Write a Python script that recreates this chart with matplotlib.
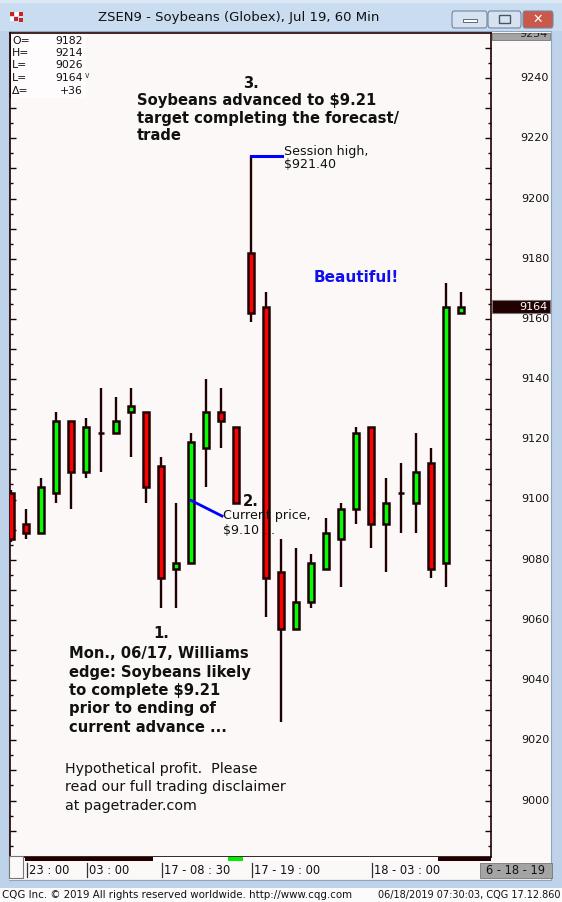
import matplotlib
matplotlib.use("Agg")
import matplotlib.pyplot as plt
from matplotlib.patches import Rectangle, FancyBboxPatch
from matplotlib.ticker import MultipleLocator, NullFormatter
from matplotlib.transforms import Bbox, TransformedBbox, blended_transform_factory

# ---------------- data ----------------
opens  = [9102, 9092, 9089, 9102, 9126, 9109, 9122, 9122, 9129, 9129, 9111, 9077, 9079, 9117, 9129, 9124,
          9182, 9164, 9076, 9057, 9066, 9077, 9087, 9097, 9124, 9092, 9102, 9099, 9112, 9079, 9162]
highs  = [9103, 9097, 9107, 9129, 9126, 9127, 9137, 9134, 9137, 9129, 9114, 9099, 9122, 9140, 9137, 9124,
          9214, 9169, 9087, 9084, 9082, 9094, 9099, 9124, 9124, 9107, 9112, 9122, 9117, 9172, 9169]
lows   = [9086, 9087, 9089, 9099, 9097, 9107, 9109, 9122, 9114, 9099, 9064, 9064, 9079, 9104, 9117, 9099,
          9159, 9061, 9026, 9057, 9064, 9077, 9071, 9092, 9084, 9076, 9089, 9089, 9074, 9071, 9162]
closes = [9087, 9089, 9104, 9126, 9109, 9124, 9122, 9126, 9131, 9104, 9074, 9079, 9119, 9129, 9126, 9099,
          9162, 9074, 9057, 9066, 9079, 9089, 9097, 9122, 9092, 9099, 9102, 9109, 9077, 9164, 9164]

time_labels = ["23 : 00", "03 : 00", "17 - 08 : 30", "17 - 19 : 00", "18 - 03 : 00"]
time_label_idx = [1, 5, 10, 16, 24]
price_labels = list(range(9000, 9241, 20))
last_price = 9164
top_price_label = "9254"
session_high = 9214
current_price_pt = (12, 9099.7)
current_price_end = (14.07, 9094.5)

header_keys = ["O=", "H=", "L=", "L=", "\u0394="]
header_vals = ["9182", "9214", "9026", "9164", "+36"]

# ---------------- figure ----------------
W, H = 562, 902
fig = plt.figure(figsize=(W / 100, H / 100), dpi=100)
fig.patch.set_facecolor("#bed3ea")

def fx(x):
    return x / W

def fy(y):
    return 1 - y / H

def frect(x0, y0, x1, y1, z=0.5, **kw):
    r = Rectangle((fx(x0), fy(y1)), (x1 - x0) / W, (y1 - y0) / H,
                  transform=fig.transFigure, zorder=z, **kw)
    fig.patches.append(r)
    return r

BG = "#fcf8f8"
DARK = "#200000"

# title bar
frect(0, 0, W, 31, z=0.1, facecolor="#cadcf0", edgecolor="none")
frect(0, 0, W, 3, z=0.1, facecolor="#dbe7f5", edgecolor="none")
# chart panel
frect(9, 31, 551, 880, z=0.1, facecolor=BG, edgecolor="#8ea6c0", linewidth=0.8)
# status bar
frect(0, 888, W, H, z=0.1, facecolor="#fbfbfb", edgecolor="none")

# icon
for (x0, y0, c) in [(10, 12, "#cc2222"), (15, 12, "#ffffff"), (19, 12, "#cc2222"),
                    (10, 17, "#ffffff"), (14, 17, "#cc2222"), (19, 18, "#cc2222")]:
    frect(x0, y0, x0 + 4, y0 + 4, facecolor=c, edgecolor="none")

# window buttons
for (x0, x1, fc) in [(452, 487, "#d6e2ef"), (488, 521, "#d6e2ef"), (523, 553, "#c9594a")]:
    b = FancyBboxPatch((fx(x0), fy(28)), (x1 - x0) / W, 17 / H,
                       boxstyle="round,pad=0,rounding_size=0.004",
                       transform=fig.transFigure, facecolor=fc, edgecolor="#6f86a3",
                       linewidth=0.8, zorder=0.5)
    fig.patches.append(b)
frect(463, 19, 477, 22, facecolor="#ffffff", edgecolor="#445566", linewidth=0.6)
frect(499, 15, 510, 23, facecolor="none", edgecolor="#445566", linewidth=1.0)
fig.text(fx(538), fy(19), "\u2715", fontsize=9, color="white", fontweight="bold",
         ha="center", va="center", family="DejaVu Sans")

fig.text(fx(239), fy(18), "ZSEN9 - Soybeans (Globex), Jul 19, 60 Min", fontsize=9.5,
         color="#111111", ha="center", va="center", family="DejaVu Sans")

# ---------------- axes ----------------
ax_l, ax_r, ax_t, ax_b = 10, 491, 33, 857
ax = fig.add_axes([fx(ax_l), fy(ax_b), (ax_r - ax_l) / W, (ax_b - ax_t) / H])
ax.set_zorder(2)
ax.set_facecolor(BG)
x_left = (ax_l - 11) / 15
x_right = (ax_r - 11) / 15
ax.set_xlim(x_left, x_right)
ax.set_ylim(9000 - (ax_b - 800.5) / 3.01, 9000 + (800.5 - ax_t) / 3.01)

xs = list(range(len(opens)))
ax.vlines(xs, lows, highs, color=DARK, linewidth=1.7, zorder=2)
colors = ["#00ff00" if c >= o else "#ff0000" for o, c in zip(opens, closes)]
ax.bar(xs, [c - o for o, c in zip(opens, closes)], bottom=opens, width=0.34,
       color=colors, edgecolor=DARK, linewidth=1.8, zorder=3)

# annotation lines
ax.plot([16, 18.07], [session_high, session_high], color="#0000ff", linewidth=2.2, zorder=4)
ax.plot([current_price_pt[0], current_price_end[0]], [current_price_pt[1], current_price_end[1]],
        color="#0000ff", linewidth=2.0, zorder=4)

for s in ax.spines.values():
    s.set_color(DARK)
    s.set_linewidth(1.2)
ax.set_xticks([])
ax.yaxis.set_major_locator(MultipleLocator(10))
ax.yaxis.set_minor_locator(MultipleLocator(5))
ax.yaxis.set_major_formatter(NullFormatter())
ax.tick_params(axis="y", which="major", direction="in", length=4.5, width=1.0, color=DARK,
               left=True, right=True, labelleft=False, labelright=False)
ax.tick_params(axis="y", which="minor", direction="in", length=2.3, width=1.0, color=DARK,
               left=True, right=True)

# right price labels
ytr = blended_transform_factory(fig.transFigure, ax.transData)
for p in price_labels:
    ax.text(fx(549), p, str(p), transform=ytr, fontsize=8, color="#111111",
            ha="right", va="center", family="DejaVu Sans", clip_on=False)

# last price box
pix_per_unit = 3.01
lp = Rectangle((fx(492), last_price - 6.5 / pix_per_unit), (550 - 492) / W, 13 / pix_per_unit,
               transform=ytr, facecolor=DARK, edgecolor="#777777", linewidth=0.8, clip_on=False,
               zorder=5)
ax.add_artist(lp)
ax.text(fx(548), last_price, str(last_price), transform=ytr, fontsize=8, color="white",
        ha="right", va="center", family="DejaVu Sans", clip_on=False, zorder=6)

# top grey label box (cut)
frect(492, 33, 550, 40, z=3, facecolor="#a4a4a4", edgecolor="#777777", linewidth=0.6)
t = fig.text(fx(548), fy(34), top_price_label, fontsize=8, color="#222222",
             ha="right", va="center", family="DejaVu Sans", zorder=4)
t.set_clip_box(TransformedBbox(Bbox([[fx(492), fy(40)], [fx(550), fy(33)]]), fig.transFigure))

# header values (box covers ticks)
frect(11, 34, 86, 98, z=3, facecolor="#fefcfc", edgecolor="none")
frect(10, 34, 11.3, 98, z=3.1, facecolor=DARK, edgecolor="none")
hy = [40.5, 53, 65.5, 78, 90.5]
for k, v, y in zip(header_keys, header_vals, hy):
    fig.text(fx(12), fy(y), k, fontsize=7.8, color="#111111", ha="left", va="center",
             family="DejaVu Sans", zorder=4)
    fig.text(fx(83), fy(y), v, fontsize=7.8, color="#111111", ha="right", va="center",
             family="DejaVu Sans", zorder=4)
fig.text(fx(85), fy(75), "v", fontsize=5.5, color="#333333", ha="left", va="center",
         family="DejaVu Sans", zorder=4)

# bottom time axis strip
frect(25, 857, 491, 861, z=3, facecolor=DARK, edgecolor="none")
frect(153, 857, 438, 861, z=3, facecolor="#ffffff", edgecolor="none")
frect(228, 857, 243, 861, z=3, facecolor="#00ee00", edgecolor="none")
frect(9, 856, 23, 878, z=3, facecolor=BG, edgecolor="#777777", linewidth=0.8)
xtr = blended_transform_factory(ax.transData, fig.transFigure)
for i, lab in zip(time_label_idx, time_labels):
    ax.plot([i + 0.07, i + 0.07], [fy(863), fy(877)], transform=xtr, color="#333333",
            linewidth=0.9, clip_on=False)
    ax.text(i + 0.2, fy(870), lab, transform=xtr, fontsize=8.3, color="#111111",
            ha="left", va="center", family="DejaVu Sans", clip_on=False)
frect(480, 863, 552, 878, z=3, facecolor="#a4a4a4", edgecolor="#777777", linewidth=0.6)
fig.text(fx(516), fy(870.5), "6 - 18 - 19", fontsize=8.3, color="#111111", ha="center",
         va="center", family="DejaVu Sans", zorder=4)
frect(9, 879, 551, 880, z=3, facecolor="#e8eef5", edgecolor="none")

# status bar texts
fig.text(fx(2), fy(895), "CQG Inc. \u00a9 2019 All rights reserved worldwide. http://www.cqg.com",
         fontsize=7.4, color="#111111", ha="left", va="center", family="DejaVu Sans")
fig.text(fx(560), fy(895), "06/18/2019 07:30:03, CQG 17.12.860", fontsize=7.0,
         color="#111111", ha="right", va="center", family="DejaVu Sans")

# ---------------- annotations ----------------
def bold_lines(x, ys, lines, size=10.6, color="#111111", weight="bold", ha="left"):
    for y, s in zip(ys, lines):
        fig.text(fx(x), fy(y), s, fontsize=size, color=color, fontweight=weight,
                 ha=ha, va="center", family="DejaVu Sans", zorder=5)

bold_lines(251, [83], ["3."], ha="center")
bold_lines(137, [100, 118, 136], ["Soybeans advanced to $9.21",
                                  "target completing the forecast/", "trade"])
bold_lines(284, [151, 165], ["Session high,", "$921.40"], size=9.1, weight="normal")
bold_lines(356, [277], ["Beautiful!"], size=11, color="#1010ee", ha="center")
bold_lines(251, [501], ["2."], ha="center")
bold_lines(223, [516, 531], ["Current price,", "$9.10 . ."], size=9.1, weight="normal")
bold_lines(161, [634], ["1."], ha="center")
bold_lines(69, [654, 672.5, 691, 709, 727.5],
           ["Mon., 06/17, Williams", "edge: Soybeans likely", "to complete $9.21",
            "prior to ending of", "current advance ..."])
bold_lines(65, [769, 787.5, 806],
           ["Hypothetical profit.  Please", "read our full trading disclaimer",
            "at pagetrader.com"], size=10.3, weight="normal")

fig.savefig("out.png", dpi=100, facecolor=fig.get_facecolor())
